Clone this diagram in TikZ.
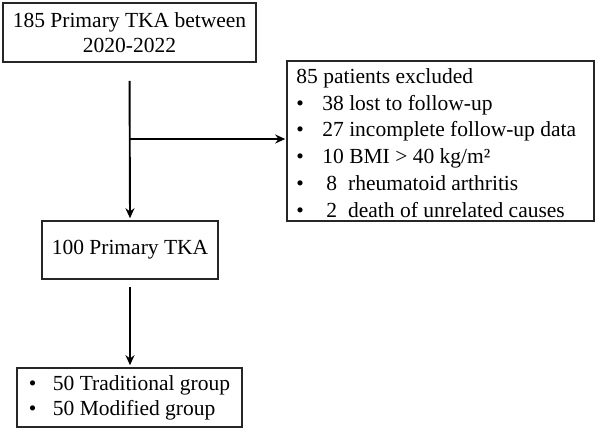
\documentclass[tikz,border=0pt]{standalone}
\usepackage{fontspec}
\setmainfont{Liberation Serif}
\usetikzlibrary{arrows.meta}
\begin{document}
\begin{tikzpicture}[x=1pt,y=-1pt,
  box/.style={draw=black!85, line width=1.6pt, inner sep=0pt, font=\fontsize{21.5}{25}\selectfont},
  conn/.style={line width=1.9pt, -{Stealth[length=10pt,width=9pt]}},
  txt/.style={inner sep=0pt, font=\fontsize{21.5}{26.8}\selectfont, align=left}]
\useasboundingbox (0,0) rectangle (598,431);
\node[box, minimum width=253pt, minimum height=59pt, align=center] (b1) at (129.5,32.5)
  {185 Primary TKA between\\2020-2022};
\node[box, minimum width=176pt, minimum height=58pt] (b2) at (130,250) {100 Primary TKA};
\node[box, minimum width=225pt, minimum height=59pt, align=left] (b3) at (129.5,397.5)
  {\makebox[24pt][l]{\textbullet}50 Traditional group\\
   \makebox[24pt][l]{\textbullet}50 Modified group};
\node[box, minimum width=307pt, minimum height=160pt] (ex) at (440.5,141) {};
\node[txt, anchor=north west] (extxt) at ([xshift=10pt,yshift=-8pt]ex.north west)
  {85 patients excluded\\
   \makebox[26pt][l]{\textbullet}38 lost to follow-up\\
   \makebox[26pt][l]{\textbullet}27 incomplete follow-up data\\
   \makebox[26pt][l]{\textbullet}10 BMI > 40 kg/m²\\
   \makebox[26pt][l]{\textbullet}\hspace{4pt}8\hspace{11pt}rheumatoid arthritis\\
   \makebox[26pt][l]{\textbullet}\hspace{4pt}2\hspace{11pt}death of unrelated causes};
\coordinate (j) at (130,139);
\draw[conn, shorten <=18pt, shorten >=2pt] (b1.south) -- (b2.north);
\draw[conn, shorten >=1pt] (j) -- (j -| ex.west);
\draw[conn, shorten <=7pt, shorten >=2pt] (b2.south) -- (b2.south |- b3.north);
\end{tikzpicture}
\end{document}
